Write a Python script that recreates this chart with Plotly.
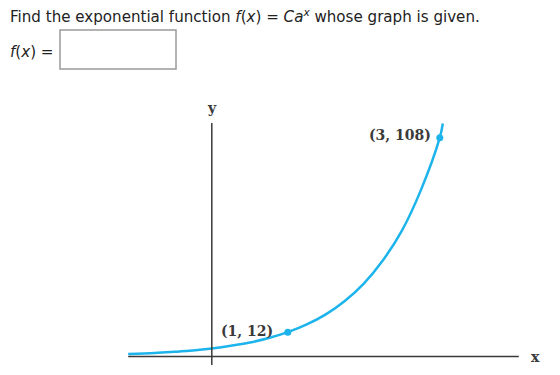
import plotly.graph_objects as go

# Values
curve_x = [-1.1, -0.75, -0.5, -0.25, 0, 0.25, 0.5, 0.75, 1, 1.25, 1.5, 1.75, 2, 2.25, 2.5, 2.75, 3, 3.04]
curve_y = [1.2, 1.7, 2.3, 3.0, 4, 5.3, 6.9, 9.1, 12, 15.8, 20.8, 27.4, 36, 47.4, 62, 82, 108, 115]
point_x = [1, 3]
point_y = [12, 108]
point_labels = ["(1, 12)", "(3, 108)"]

W, H = 560, 375
X0, X1 = -2.787, 4.582
Y0, Y1 = -9.13, 175.96

blue = "#1db4ec"
dark = "#3a3a3a"

fig = go.Figure()
fig.add_trace(go.Scatter(x=curve_x, y=curve_y, mode="lines",
                         line=dict(color=blue, width=2.5, shape="spline", smoothing=1.0),
                         hoverinfo="skip", showlegend=False))
fig.add_trace(go.Scatter(x=point_x, y=point_y, mode="markers",
                         marker=dict(color=blue, size=7),
                         hoverinfo="skip", showlegend=False))

# axes lines
fig.add_shape(type="line", x0=-1.1, x1=4.04, y0=0, y1=0, line=dict(color=dark, width=1.5))
fig.add_shape(type="line", x0=0, x1=0, y0=-4.2, y1=115.2, line=dict(color=dark, width=1.5))

serif = "DejaVu Serif"
fig.add_annotation(x=0, y=115.2, text="<b>y</b>", showarrow=False, yshift=15,
                   font=dict(family=serif, size=14, color=dark))
fig.add_annotation(x=4.04, y=0, text="<b>x</b>", showarrow=False, xanchor="left", xshift=10,
                   font=dict(family=serif, size=14, color=dark))
fig.add_annotation(x=point_x[0], y=point_y[0], text="<b>" + point_labels[0] + "</b>", showarrow=False,
                   xanchor="right", xshift=-13, yshift=1,
                   font=dict(family=serif, size=14, color=dark))
fig.add_annotation(x=point_x[1], y=point_y[1], text="<b>" + point_labels[1] + "</b>", showarrow=False,
                   xanchor="right", xshift=-7, yshift=3,
                   font=dict(family=serif, size=14, color=dark))

# header text
sans = "DejaVu Sans"
fig.add_annotation(xref="paper", yref="paper", x=8 / W, y=1 - 16 / H, xanchor="left", yanchor="middle",
                   text="Find the exponential function <i>f</i>(<i>x</i>) = <i>Ca</i><sup><i>x</i></sup> whose graph is given.",
                   showarrow=False, font=dict(family=sans, size=15.1, color="#222222"))
fig.add_annotation(xref="paper", yref="paper", x=8 / W, y=1 - 52 / H, xanchor="left", yanchor="middle",
                   text="<i>f</i>(<i>x</i>) =", showarrow=False, font=dict(family=sans, size=15.1, color="#222222"))
fig.add_shape(type="rect", xref="paper", yref="paper", x0=60 / W, x1=176 / W, y0=1 - 30 / H, y1=1 - 69 / H,
              line=dict(color="#9a9a9a", width=1.5), fillcolor="white")

fig.update_layout(width=W, height=H, margin=dict(l=0, r=0, t=0, b=0),
                  paper_bgcolor="white", plot_bgcolor="white",
                  xaxis=dict(range=[X0, X1], visible=False, fixedrange=True),
                  yaxis=dict(range=[Y0, Y1], visible=False, fixedrange=True))
fig.write_html("out.html", config={"displayModeBar": False, "staticPlot": True})
